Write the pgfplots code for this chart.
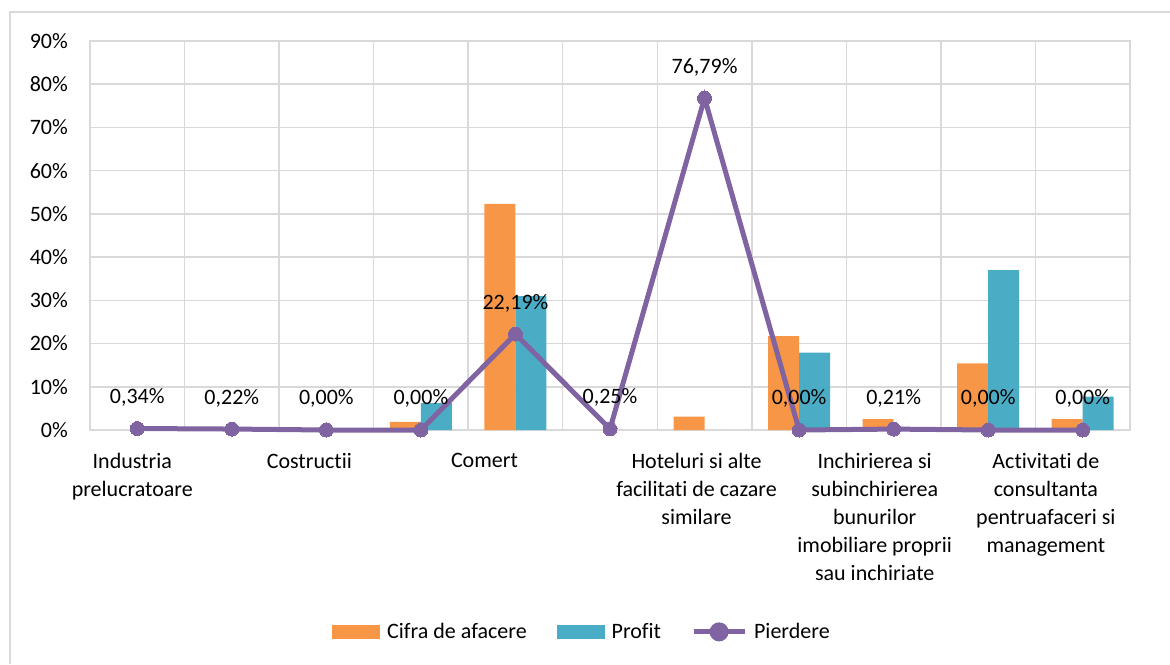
\documentclass[border=0pt]{standalone}
\usepackage{fontspec}
\setmainfont{Carlito}[Ligatures=NoCommon]
\usepackage{pgfplots}
\pgfplotsset{compat=1.18}
\definecolor{orangebar}{HTML}{F79646}
\definecolor{bluebar}{HTML}{4BACC6}
\definecolor{purpleline}{HTML}{8064A2}
\definecolor{gridgray}{HTML}{D9D9D9}

\begin{document}
\begin{tikzpicture}[font=\fontsize{22}{28}\selectfont]
\path[use as bounding box] (0,0) rectangle (1170pt,664pt);
% chart area frame (only left and top edges show)
\draw[gridgray, line width=1.5pt] (10pt,0pt) -- (10pt,652pt) -- (1170pt,652pt);

\begin{axis}[
    at={(90pt,234pt)}, anchor=south west,
    scale only axis, width=1040pt, height=389pt,
    xmin=0.5, xmax=11.5, ymin=0, ymax=90,
    axis line style={gridgray, line width=1.5pt},
    major tick length=0pt, minor tick length=0pt,
    ytick={0,10,...,90},
    yticklabels={0\%,10\%,20\%,30\%,40\%,50\%,60\%,70\%,80\%,90\%},
    yticklabel style={inner sep=0pt, xshift=-22pt},
    ymajorgrids,
    major grid style={gridgray, line width=1.5pt},
    minor xtick={1.5,2.5,...,10.5},
    xminorgrids,
    minor grid style={gridgray, line width=1.5pt},
    xtick={0.947,2.82,4.672,6.915,8.8,10.61},
    xticklabels={Industria\\prelucratoare, Costructii, Comert,
        Hoteluri si alte\\facilitati de cazare\\similare,
        Inchirierea si\\subinchirierea\\bunurilor\\imobiliare proprii\\sau inchiriate,
        Activitati de\\consultanta\\pentruafaceri si\\management},
    xticklabel style={anchor=north, align=center, inner sep=0pt, yshift=-23pt},
    clip=false,
    legend style={at={(0.473,-0.519)}, anchor=center, draw=none, fill=none,
        legend columns=-1, cells={anchor=west},
        /tikz/every odd column/.append style={column sep=5pt},
        /tikz/every even column/.append style={column sep=28pt}},
]

% Cifra de afacere
\addplot[ybar, bar width=31pt, bar shift=-15.5pt, fill=orangebar, draw=none,
    legend image code/.code={\fill[orangebar] (0pt,-7pt) rectangle (48pt,7pt);}]
    coordinates {(4,1.9) (5,52.3) (7,3.1) (8,21.7) (9,2.5) (10,15.4) (11,2.5)};
\addlegendentry{Cifra de afacere}

% Profit
\addplot[ybar, bar width=31pt, bar shift=15.5pt, fill=bluebar, draw=none,
    legend image code/.code={\fill[bluebar] (0pt,-7pt) rectangle (48pt,7pt);}]
    coordinates {(4,6.2) (5,31.0) (8,17.9) (10,37.0) (11,7.7)};
\addlegendentry{Profit}

% Pierdere
\addplot[purpleline, line width=5pt, mark=*, mark size=7pt,
    mark options={fill=purpleline, draw=purpleline, line width=0pt},
    point meta=explicit symbolic, nodes near coords,
    every node near coord/.append style={anchor=base, yshift=25pt, inner sep=0pt,
        text=black, font=\fontsize{22}{28}\selectfont},
    legend image code/.code={\draw[purpleline, line width=5pt] (0pt,0pt) -- (51pt,0pt);
        \fill[purpleline] (25.5pt,0pt) circle (7pt);}]
    coordinates {(1,0.34) [0,34\%] (2,0.22) [0,22\%] (3,0.00) [0,00\%] (4,0.00) [0,00\%]
        (5,22.19) [22,19\%] (6,0.25) [0,25\%] (7,76.79) [76,79\%] (8,0.00) [0,00\%]
        (9,0.21) [0,21\%] (10,0.00) [0,00\%] (11,0.00) [0,00\%]};
\addlegendentry{Pierdere}

\end{axis}
\end{tikzpicture}
\end{document}
